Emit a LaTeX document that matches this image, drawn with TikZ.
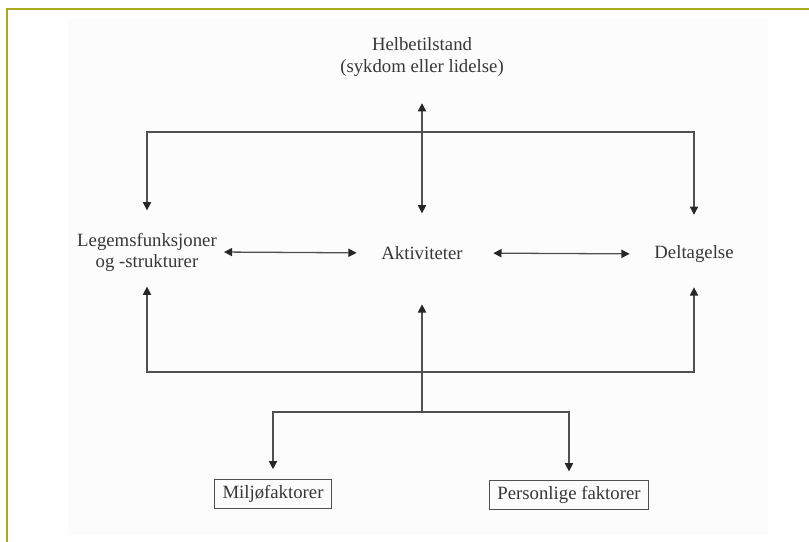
\documentclass[tikz,border=0pt]{standalone}
\usepackage{fontspec}
\setmainfont{Liberation Serif}
\usetikzlibrary{arrows.meta}

\definecolor{frameolive}{RGB}{170,168,30}
\definecolor{inkgray}{RGB}{55,55,55}
\definecolor{linegray}{RGB}{80,80,80}
\definecolor{paper}{RGB}{252,252,252}

\tikzstyle{term} = [text=inkgray, align=center, font=\fontsize{16}{18}\selectfont, inner sep=0pt]
\tikzstyle{factor} = [term, draw=linegray, line width=0.8pt, inner xsep=6.5pt, minimum height=25.5pt]
\tikzstyle{arrow} = [draw=linegray, line width=1.1pt, -{Triangle[length=7pt,width=7pt,color=black!85]}]
\tikzstyle{twoway} = [arrow, {Triangle[length=7pt,width=7pt,color=black!85]}-{Triangle[length=7pt,width=7pt,color=black!85]}]

\begin{document}
\begin{tikzpicture}[x=0.03cm, y=-0.03cm]
\useasboundingbox (0,0) rectangle (809,542);
\fill[paper] (68,18) rectangle (768,535);
\draw[frameolive, line width=1.6pt] (7,542) -- (7,9) -- (809,9);

\node (helbe) [term] at (422,57) {Helbetilstand\\(sykdom eller lidelse)};
\node (legems) [term] at (147,252) {Legemsfunksjoner\\og -strukturer};
\node (aktiv) [term] at (422,253) {Aktiviteter};
\node (deltag) [term] at (694,254) {Deltagelse};
\node (miljo) [factor] at (273,494) {Miljøfaktorer};
\node (person) [factor] at (569,495) {Personlige faktorer};

\coordinate (topbar) at (422,132);
\coordinate (botbar) at (422,372);
\coordinate (fork) at (422,412);

% upper and lower loops
\draw[twoway, shorten <=19pt, shorten >=26pt] (legems.north) |- (topbar) -| (deltag.north);
\draw[twoway, shorten <=13pt, shorten >=21pt] (legems.south) |- (botbar) -| (deltag.south);

\draw[twoway, shorten <=23pt, shorten >=28pt] (helbe.south) -- (aktiv.north);
\draw[twoway, shorten <=6pt, shorten >=21pt] (legems.east) -- (aktiv.west);
\draw[twoway, shorten <=26pt, shorten >=21pt] (aktiv.east) -- (deltag.west);

% context factors
\draw[arrow, shorten >=38pt] (fork) -- (aktiv.south);
\draw[arrow, shorten >=8pt] (fork) -| (miljo.north);
\draw[arrow, shorten >=7pt] (fork) -| (person.north);

\end{tikzpicture}
\end{document}
